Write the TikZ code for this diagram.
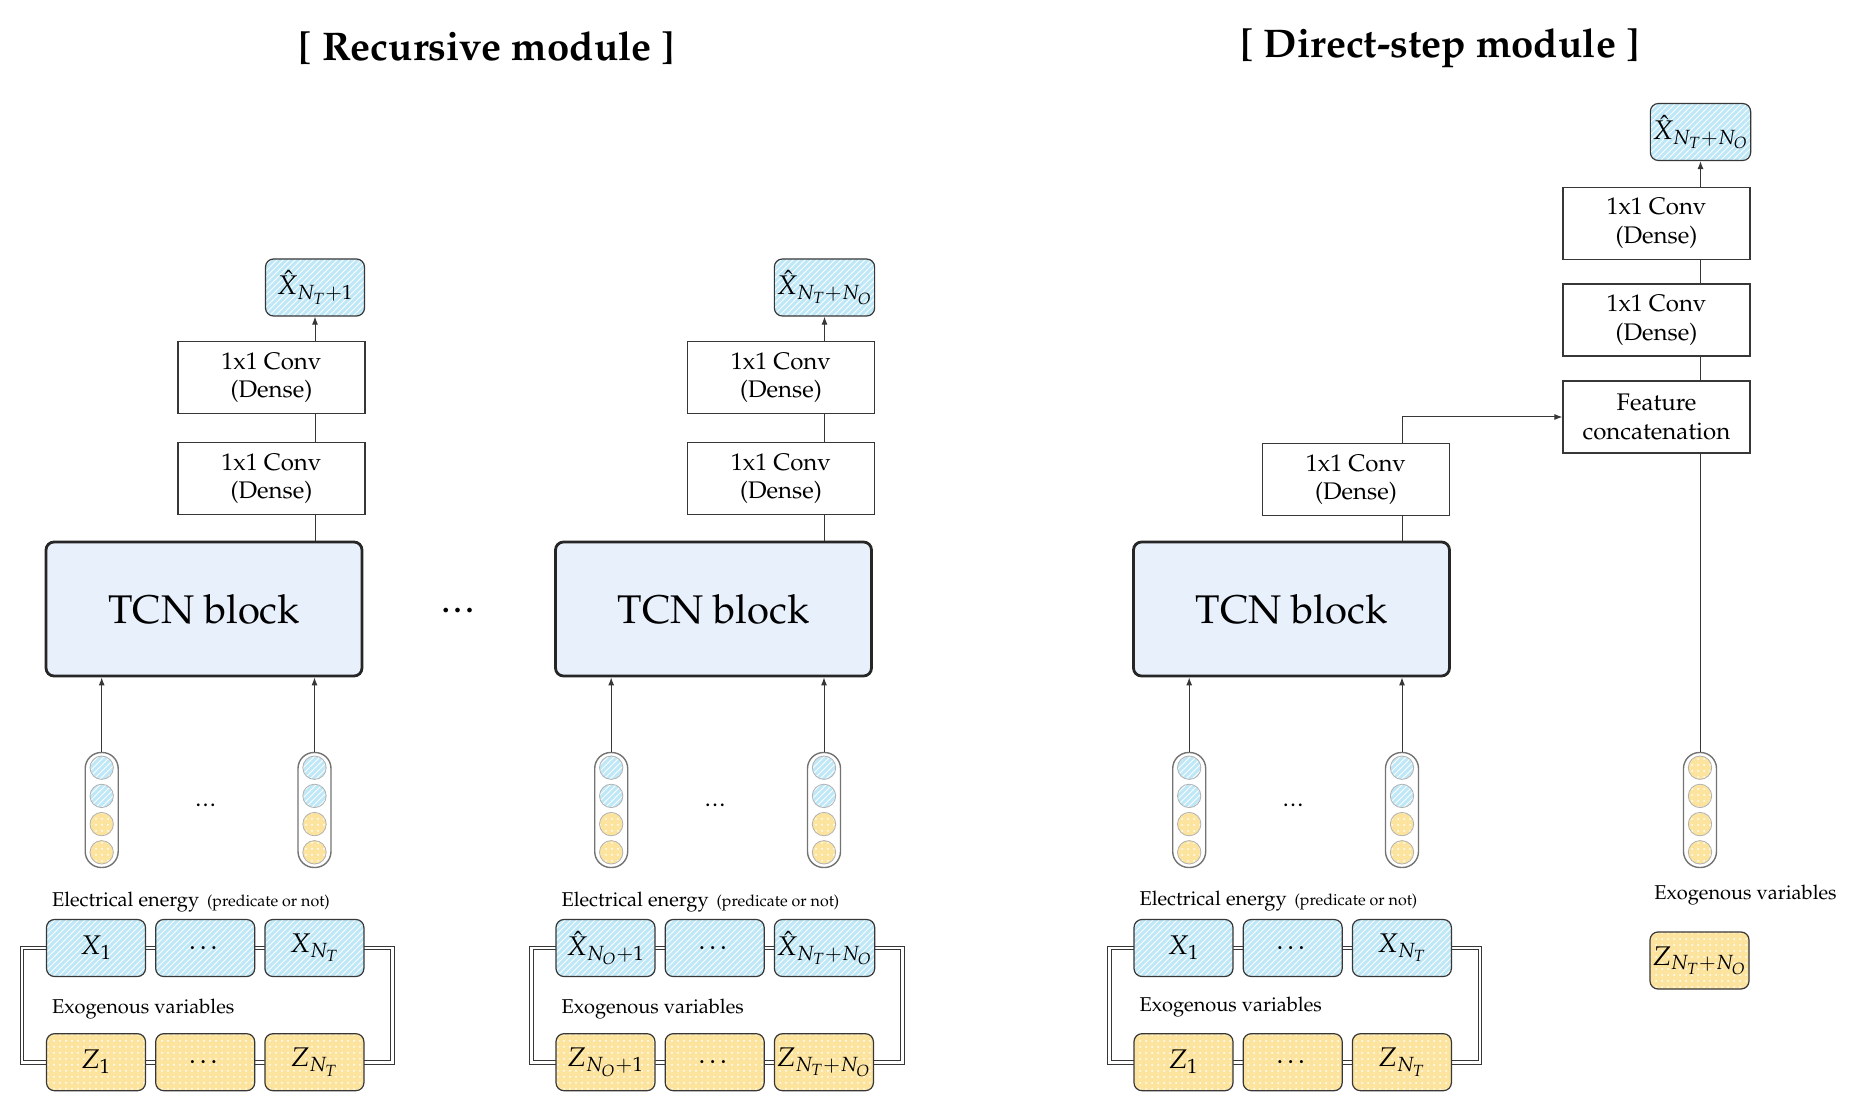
\documentclass[tikz,border=0pt]{standalone}
\usepackage[T1]{fontenc}
\usepackage{mathpazo}
\usepackage{amsmath}
\usetikzlibrary{positioning, arrows.meta, calc, patterns, backgrounds}

\definecolor{xblue}{RGB}{190,232,248}
\definecolor{zyellow}{RGB}{253,228,158}
\definecolor{tcnblue}{RGB}{232,240,252}
\definecolor{edge}{RGB}{55,55,55}
\newcommand{\notesize}{\fontsize{8}{10}\selectfont}

\begin{document}
\begin{tikzpicture}[
        x=0.5pt, y=-0.5pt,
        title/.style={font=\fontsize{20}{24}\selectfont\bfseries},
        conv/.style={draw=edge, line width=0.6pt, minimum width=93.5pt, minimum height=36pt,
            inner sep=0pt, align=center, font=\fontsize{12}{14.3}\selectfont},
        tcn/.style={draw=black!85, line width=1.4pt, rounded corners=4pt, fill=tcnblue,
            minimum width=158pt, minimum height=67pt, font=\fontsize{20}{24}\selectfont},
        xbox/.style={draw=edge, line width=0.6pt, rounded corners=4pt, minimum width=49.5pt,
            minimum height=28.5pt, inner sep=1pt, font=\fontsize{13.5}{16}\selectfont,
            preaction={fill=xblue}, pattern=north east lines, pattern color=white},
        zbox/.style={xbox, preaction={fill=zyellow}, pattern=dots, pattern color=white},
        capsule/.style={draw=black!55, line width=0.7pt, rounded corners=8pt,
            minimum width=16.5pt, minimum height=57.5pt},
        xdot/.style={circle, draw=black!30, line width=0.4pt, minimum size=11.7pt, inner sep=0pt,
            preaction={fill=xblue}, pattern=north east lines, pattern color=white},
        zdot/.style={xdot, preaction={fill=zyellow}, pattern=dots, pattern color=white},
        lbl/.style={anchor=west, inner sep=0pt, font=\fontsize{10}{12}\selectfont},
        frame/.style={draw=edge, double=white, double distance=1.3pt, line width=0.5pt, line join=miter},
        link/.style={draw=edge, line width=0.5pt},
        arr/.style={link, -{Latex[length=4pt,width=3pt]}}
    ]
    \useasboundingbox (0,0) rectangle (1870,1107);

    % titles
    \node[title] (titleL) at (487,48) {[ Recursive module ]};
    \node[title] (titleR) at (1440,48) {[ Direct-step module ]};

    % TCN blocks
    \node[tcn] (tcnL) at (204,609) {TCN block};
    \node[tcn] (tcnM) at (713.5,609) {TCN block};
    \node[tcn] (tcnR) at (1291.5,609) {TCN block};
    \node[font=\fontsize{15}{18}\selectfont\bfseries] (skip) at (460,611) {\ldots};

    % recursive module, first step
    \node[conv] (convLa) at (271.5,478.5) {1x1 Conv\\(Dense)};
    \node[conv] (convLb) at (271.5,377.5) {1x1 Conv\\(Dense)};
    \node[xbox] (outL) at (315,287.5) {$\hat{X}_{N_T+1}$};

    % recursive module, last step
    \node[conv] (convMa) at (781,478.5) {1x1 Conv\\(Dense)};
    \node[conv] (convMb) at (781,377.5) {1x1 Conv\\(Dense)};
    \node[xbox] (outM) at (824.5,287.5) {$\hat{X}_{N_T+N_O}$};

    % direct-step module
    \node[conv] (convRa) at (1356,479.5) {1x1 Conv\\(Dense)};
    \node[conv] (concat) at (1656.5,417) {Feature\\concatenation};
    \node[conv] (convRb) at (1656.5,320) {1x1 Conv\\(Dense)};
    \node[conv] (convRc) at (1656.5,223.5) {1x1 Conv\\(Dense)};
    \node[xbox] (outR) at (1700.5,132) {$\hat{X}_{N_T+N_O}$};

    % input vectors
    \foreach \n/\cx in {La/101.7, Lb/314.5, Ma/611.2, Mb/824, Ra/1189.2, Rb/1402}{
        \node[capsule] (cap\n) at (\cx,810) {};
        \foreach \i in {1,2} \node[xdot] (d\n\i) at (\cx,{739.5+28.2*\i}) {};
        \foreach \i in {3,4} \node[zdot] (d\n\i) at (\cx,{739.5+28.2*\i}) {};
    }
    \node[capsule] (capRc) at (1700,810) {};
    \foreach \i in {1,...,4} \node[zdot] (dRc\i) at (1700,{739.5+28.2*\i}) {};
    \node[font=\fontsize{9}{11}\selectfont\bfseries] (dotsL) at (207,805) {\ldots};
    \node[font=\fontsize{9}{11}\selectfont\bfseries] (dotsM) at (716.5,805) {\ldots};
    \node[font=\fontsize{9}{11}\selectfont\bfseries] (dotsR) at (1294.5,805) {\ldots};

    % input windows
    \node[xbox] (x1L) at (96,948) {$X_1$};
    \node[xbox, right=4.5pt of x1L] (x2L) {\ldots};
    \node[xbox, right=4.5pt of x2L] (x3L) {$X_{N_T}$};
    \node[zbox, below=28pt of x1L] (z1L) {$Z_1$};
    \node[zbox, right=4.5pt of z1L] (z2L) {\ldots};
    \node[zbox, right=4.5pt of z2L] (z3L) {$Z_{N_T}$};

    \node[xbox] (x1M) at (605.5,948) {$\hat{X}_{N_O+1}$};
    \node[xbox, right=4.5pt of x1M] (x2M) {\ldots};
    \node[xbox, right=4.5pt of x2M] (x3M) {$\hat{X}_{N_T+N_O}$};
    \node[zbox, below=28pt of x1M] (z1M) {$Z_{N_O+1}$};
    \node[zbox, right=4.5pt of z1M] (z2M) {\ldots};
    \node[zbox, right=4.5pt of z2M] (z3M) {$Z_{N_T+N_O}$};

    \node[xbox] (x1R) at (1183.5,948) {$X_1$};
    \node[xbox, right=4.5pt of x1R] (x2R) {\ldots};
    \node[xbox, right=4.5pt of x2R] (x3R) {$X_{N_T}$};
    \node[zbox, below=28pt of x1R] (z1R) {$Z_1$};
    \node[zbox, right=4.5pt of z1R] (z2R) {\ldots};
    \node[zbox, right=4.5pt of z2R] (z3R) {$Z_{N_T}$};

    \node[zbox] (zout) at (1699.5,960.5) {$Z_{N_T+N_O}$};

    % labels
    \node[lbl] (eeL) at (51.7,902) {Electrical energy\hspace{4pt}{\notesize (predicate or not)}};
    \node[lbl] (exL) at (51.7,1009) {Exogenous variables};
    \node[lbl] (eeM) at (561.2,902) {Electrical energy\hspace{4pt}{\notesize (predicate or not)}};
    \node[lbl] (exM) at (561.2,1009) {Exogenous variables};
    \node[lbl] (eeR) at (1139.2,901) {Electrical energy\hspace{4pt}{\notesize (predicate or not)}};
    \node[lbl] (exR) at (1139.2,1007) {Exogenous variables};
    \node[lbl] (exZ) at (1654,895) {Exogenous variables};

    % connections
    \draw[link] (tcnL.north -| outL) -- (convLa.south -| outL);
    \draw[link] (convLa.north -| outL) -- (convLb.south -| outL);
    \draw[arr] (convLb.north -| outL) -- (outL.south);
    \draw[arr] (capLa.north) -- (capLa |- tcnL.south);
    \draw[arr] (capLb.north) -- (capLb |- tcnL.south);

    \draw[link] (tcnM.north -| outM) -- (convMa.south -| outM);
    \draw[link] (convMa.north -| outM) -- (convMb.south -| outM);
    \draw[arr] (convMb.north -| outM) -- (outM.south);
    \draw[arr] (capMa.north) -- (capMa |- tcnM.south);
    \draw[arr] (capMb.north) -- (capMb |- tcnM.south);

    \draw[link] (tcnR.north -| capRb) -- (convRa.south -| capRb);
    \draw[arr] (convRa.north -| capRb) |- (concat.west);
    \draw[link] (capRc.north) -- (concat.south -| capRc);
    \draw[link] (concat.north -| outR) -- (convRb.south -| outR);
    \draw[link] (convRb.north -| outR) -- (convRc.south -| outR);
    \draw[arr] (convRc.north -| outR) -- (outR.south);
    \draw[arr] (capRa.north) -- (capRa |- tcnR.south);
    \draw[arr] (capRb.north) -- (capRb |- tcnR.south);

    % double frames behind the windows
    \begin{scope}[on background layer]
        \draw[frame] (x1L.center) -- (x3L.center) -- ++(78,0) |- (z3L.center) -- (z1L.center) -- ++(-74,0) |- cycle;
        \draw[frame] (x1M.center) -- (x3M.center) -- ++(78,0) |- (z3M.center) -- (z1M.center) -- ++(-74,0) |- cycle;
        \draw[frame] (x1R.center) -- (x3R.center) -- ++(78,0) |- (z3R.center) -- (z1R.center) -- ++(-74,0) |- cycle;
    \end{scope}
\end{tikzpicture}
\end{document}
